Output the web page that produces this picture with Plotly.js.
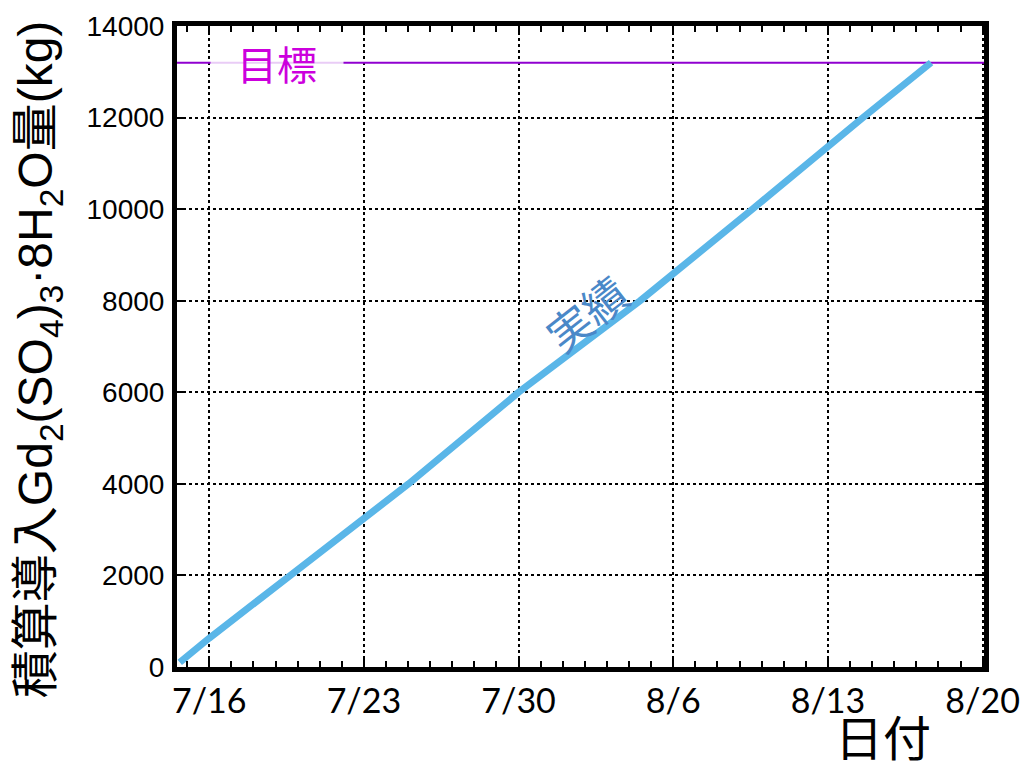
<!DOCTYPE html>
<html>
<head>
<meta charset="utf-8">
<script src="https://cdn.plot.ly/plotly-3.0.1.min.js"></script>
<style>html,body{margin:0;padding:0;background:#fff;}#chart{width:1021px;height:776px;}</style>
</head>
<body>
<div id="chart"></div>
<script>
// Cumulative loaded amount (kg)
const dates = ['2020-07-14 16:00','2020-07-16 00:00','2020-07-19 16:00','2020-07-23 00:00','2020-07-25 00:30','2020-07-30 00:00','2020-08-04 12:00','2020-08-09 14:00','2020-08-13 00:00','2020-08-14 14:00','2020-08-17 16:00'];
const cumulative = [100, 630, 2000, 3250, 4000, 6000, 8000, 10000, 11400, 12000, 13200];
const targetValue = 13200;
const xRange = ['2020-07-14 13:00', '2020-08-20 01:30'];
const yRange = [0, 14000];
const targetLabel = '目標';
const actualLabel = '実績';
const xTitle = '日付';
const yTitle = '積算導入Gd<sub>2</sub>(SO<sub>4</sub>)<sub>3</sub>·8H<sub>2</sub>O量(kg)';

const traces = [
  {x: xRange, y: [targetValue, targetValue], mode: 'lines', line: {color: '#9000d0', width: 2}, hoverinfo: 'skip'},
  {x: dates, y: cumulative, mode: 'lines', line: {color: '#5ab6e8', width: 7}}
];

const layout = {
  width: 1021, height: 776,
  margin: {l: 177, r: 37, t: 26, b: 109},
  paper_bgcolor: '#fff', plot_bgcolor: '#fff',
  showlegend: false,
  xaxis: {
    type: 'date', range: xRange,
    tick0: '2020-07-16', dtick: 604800000, tickformat: '%-m/%-d',
    showgrid: true, gridcolor: '#000', griddash: 'dot', gridwidth: 2,
    showline: true, linecolor: '#000', linewidth: 5, mirror: 'allticks',
    ticks: 'inside', ticklen: 9, tickwidth: 2, tickcolor: '#000',
    minor: {dtick: 86400000, ticks: 'inside', ticklen: 6, tickwidth: 2, tickcolor: '#000', showgrid: false},
    tickfont: {family: 'Lato, "Open Sans", sans-serif', size: 34, color: '#000'},
    zeroline: false
  },
  yaxis: {
    range: yRange, dtick: 2000, tickformat: 'd',
    showgrid: true, gridcolor: '#000', griddash: 'dot', gridwidth: 2,
    showline: true, linecolor: '#000', linewidth: 5, mirror: 'allticks',
    ticks: 'inside', ticklen: 9, tickwidth: 2, tickcolor: '#000',
    tickfont: {family: '"Liberation Sans", Arial, sans-serif', size: 28, color: '#000'},
    ticklabelstandoff: 2,
    zeroline: false
  },
  annotations: [
    {xref: 'paper', yref: 'paper', x: -0.17, y: 0.48, text: yTitle, textangle: -90, showarrow: false,
     xanchor: 'center', yanchor: 'middle',
     font: {family: '"Liberation Sans", "Noto Sans CJK JP", sans-serif', size: 48, color: '#000'}},
    {xref: 'paper', yref: 'paper', x: 0.875, y: -0.106, text: xTitle, showarrow: false,
     xanchor: 'center', yanchor: 'middle',
     font: {family: '"Noto Sans CJK JP", sans-serif', size: 48, color: '#000'}},
    {x: '2020-07-19 02:00', y: targetValue, text: targetLabel, showarrow: false,
     xanchor: 'center', yanchor: 'middle', width: 130, bgcolor: 'rgba(255,255,255,0.8)',
     font: {family: '"Noto Sans CJK JP", sans-serif', size: 40, color: '#cc00dd'}},
    {x: '2020-08-02 01:00', y: 7730, text: actualLabel, showarrow: false, textangle: -38,
     xanchor: 'center', yanchor: 'middle',
     font: {family: '"Noto Sans CJK JP", sans-serif', size: 44, color: '#4a88c8'}}
  ]
};

Plotly.newPlot('chart', traces, layout, {displayModeBar: false, staticPlot: true});
</script>
</body>
</html>
